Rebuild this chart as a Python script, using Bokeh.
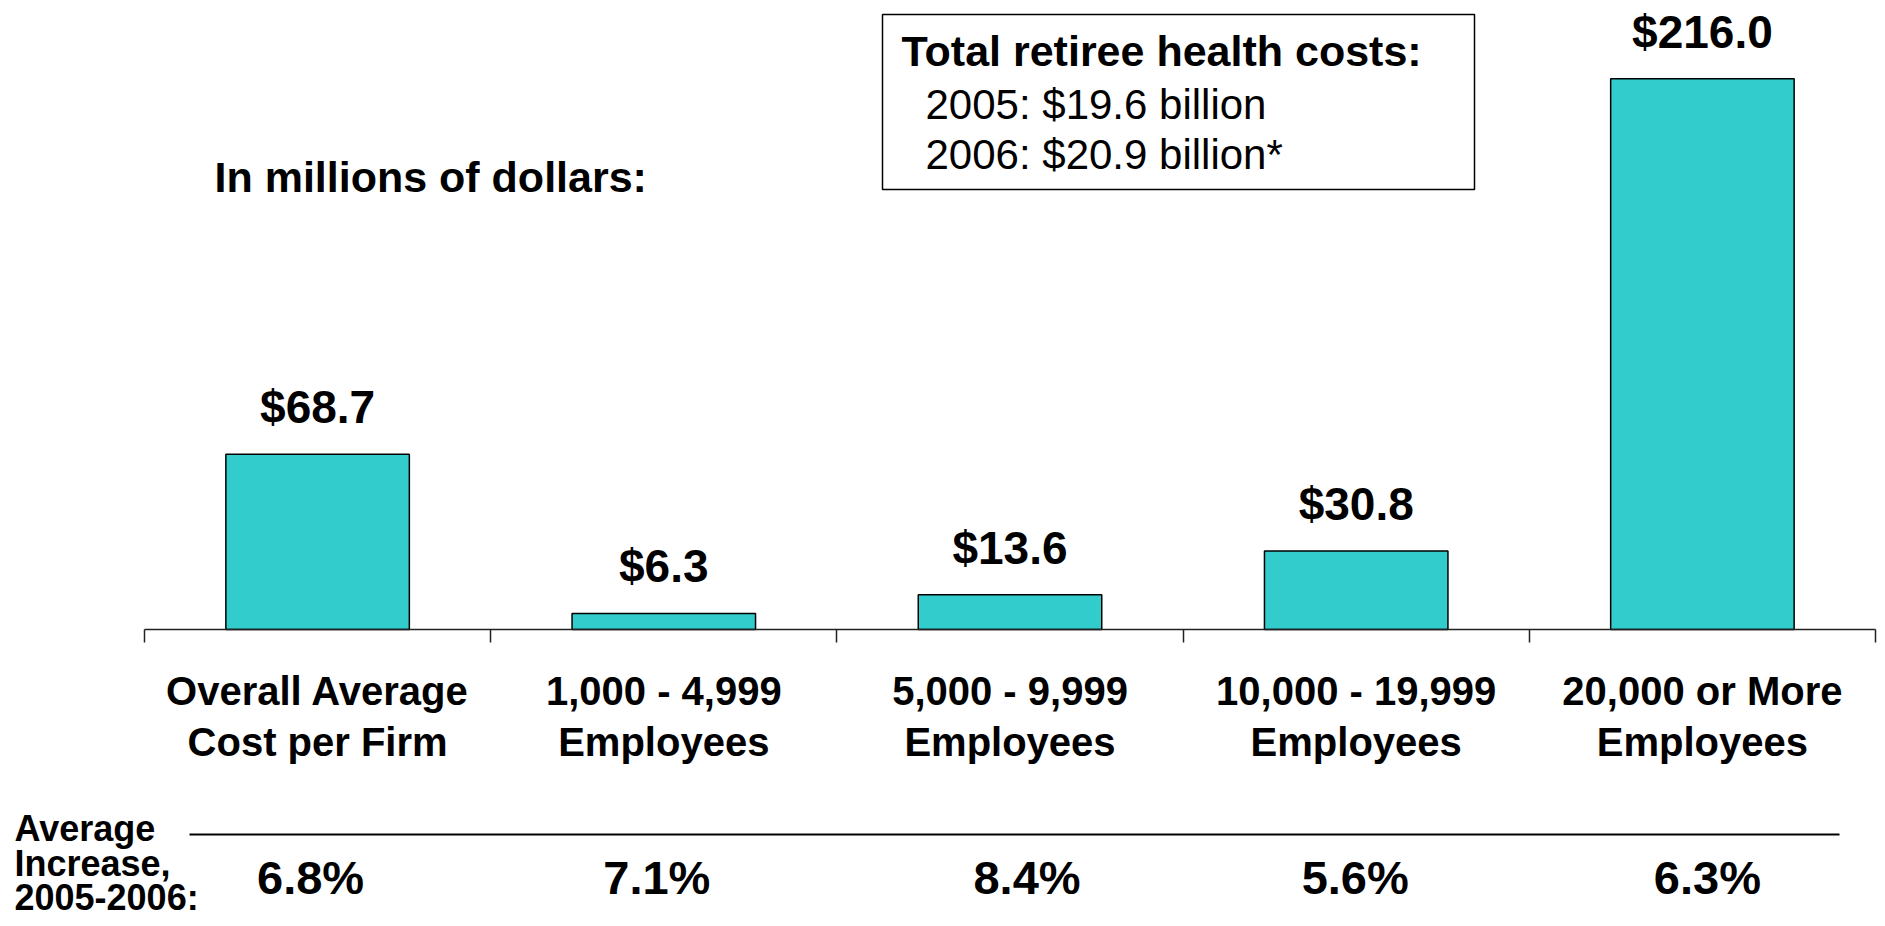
from bokeh.plotting import figure
from bokeh.models import Range1d, LinearAxis, FixedTicker, ColumnDataSource, CustomJSTickFormatter
from bokeh.core.properties import value
from bokeh.embed import file_html
from bokeh.resources import INLINE

# ---------------- data ----------------
categories = ["Overall Average\nCost per Firm", "1,000 - 4,999\nEmployees",
              "5,000 - 9,999\nEmployees", "10,000 - 19,999\nEmployees",
              "20,000 or More\nEmployees"]
costs = [68.7, 6.3, 13.6, 30.8, 216.0]          # millions of dollars
increase = [6.8, 7.1, 8.4, 5.6, 6.3]            # % increase 2005-2006
unit_note = "In millions of dollars:"
box_title = "Total retiree health costs:"
box_lines = ["2005: $19.6 billion", "2006: $20.9 billion*"]
row_label = ["Average", "Increase,", "2005-2006:"]

# ---------------- layout ----------------
W, H = 1877, 918
AXIS_PY = 629          # canvas pixel row of the baseline
PX_Y = 2.55            # pixels per million
X_START = 144          # canvas pixel of first category boundary
PX_X = 346.2           # pixels per category
FONT = value("Liberation Sans")
inc_nudge = [-7, -7, 17, -1, 5]   # pixel nudges of the % labels, as placed in the original

x_left = 0.5 - X_START / PX_X
y_top = AXIS_PY / PX_Y

def xd(px):
    return x_left + px / PX_X

def yd(py):
    return y_top - py / PX_Y

p = figure(width=W, height=H,
           x_range=Range1d(x_left, x_left + W / PX_X),
           y_range=Range1d(y_top - H / PX_Y, y_top),
           output_backend="svg", toolbar_location=None,
           x_axis_type=None, y_axis_type=None,
           min_border=0, outline_line_color=None,
           background_fill_color="white", border_fill_color="white")

xs = [i + 1 for i in range(len(costs))]
src = ColumnDataSource(dict(
    x=xs,
    cost=costs,
    cost_lab=[f"${c:.1f}" for c in costs],
    cost_y=[c + 47 / PX_Y for c in costs],
    inc_lab=[f"{v:.1f}%" for v in increase],
    inc_dx=inc_nudge,
    line1=[c.split("\n")[0] for c in categories],
    line2=[c.split("\n")[1] for c in categories],
))

p.vbar(x="x", top="cost", bottom=0, width=0.53, fill_color="#33CCCC",
       line_color="black", line_width=1.5, source=src)

# baseline axis with ticks at category boundaries
ax = LinearAxis(fixed_location=0, bounds=(0.5, len(costs) + 0.5),
                ticker=FixedTicker(ticks=[i + 0.5 for i in range(len(costs) + 1)]),
                formatter=CustomJSTickFormatter(code="return ''"),
                major_tick_in=0, major_tick_out=13,
                minor_tick_in=0, minor_tick_out=0,
                axis_line_color="#222222", axis_line_width=1.5,
                major_tick_line_color="#222222", major_tick_line_width=1.5)
p.add_layout(ax, "below")

# value labels
p.text(x="x", y="cost_y", text="cost_lab", source=src, text_align="center",
       text_baseline="middle", text_font=FONT, text_font_style="bold",
       text_font_size="46px", text_color="black")

# category labels
p.text(x="x", y=-61 / PX_Y, text="line1", source=src, text_align="center",
       text_baseline="middle", text_font=FONT, text_font_style="bold",
       text_font_size="40px", text_color="black")
p.text(x="x", y=-112 / PX_Y, text="line2", source=src, text_align="center",
       text_baseline="middle", text_font=FONT, text_font_style="bold",
       text_font_size="40px", text_color="black")

# percentage increase row
p.text(x="x", y=-248 / PX_Y, text="inc_lab", source=src, x_offset="inc_dx",
       text_align="center", text_baseline="middle", text_font=FONT,
       text_font_style="bold", text_font_size="47px", text_color="black")

p.segment(x0=[xd(189)], y0=[yd(834)], x1=[xd(1839)], y1=[yd(834)],
          line_color="black", line_width=2)

p.text(x=[xd(14)] * 3, y=[yd(828), yd(863), yd(897)], text=row_label,
       text_align="left", text_baseline="middle", text_font=FONT,
       text_font_style="bold", text_font_size="36px", text_color="black")

# unit note
p.text(x=[xd(214)], y=[yd(176)], text=[unit_note], text_align="left",
       text_baseline="middle", text_font=FONT, text_font_style="bold",
       text_font_size="43px", text_color="black")

# totals box
p.quad(left=[xd(882)], right=[xd(1474)], top=[yd(14)], bottom=[yd(189)],
       fill_color="white", line_color="black", line_width=1.5)
p.text(x=[xd(901)], y=[yd(50)], text=[box_title], text_align="left",
       text_baseline="middle", text_font=FONT, text_font_style="bold",
       text_font_size="43px", text_color="black")
p.text(x=[xd(925)] * 2, y=[yd(104), yd(154)], text=box_lines, text_align="left",
       text_baseline="middle", text_font=FONT, text_font_size="42px",
       text_color="black")

open("out.html", "w").write(file_html(p, INLINE))
